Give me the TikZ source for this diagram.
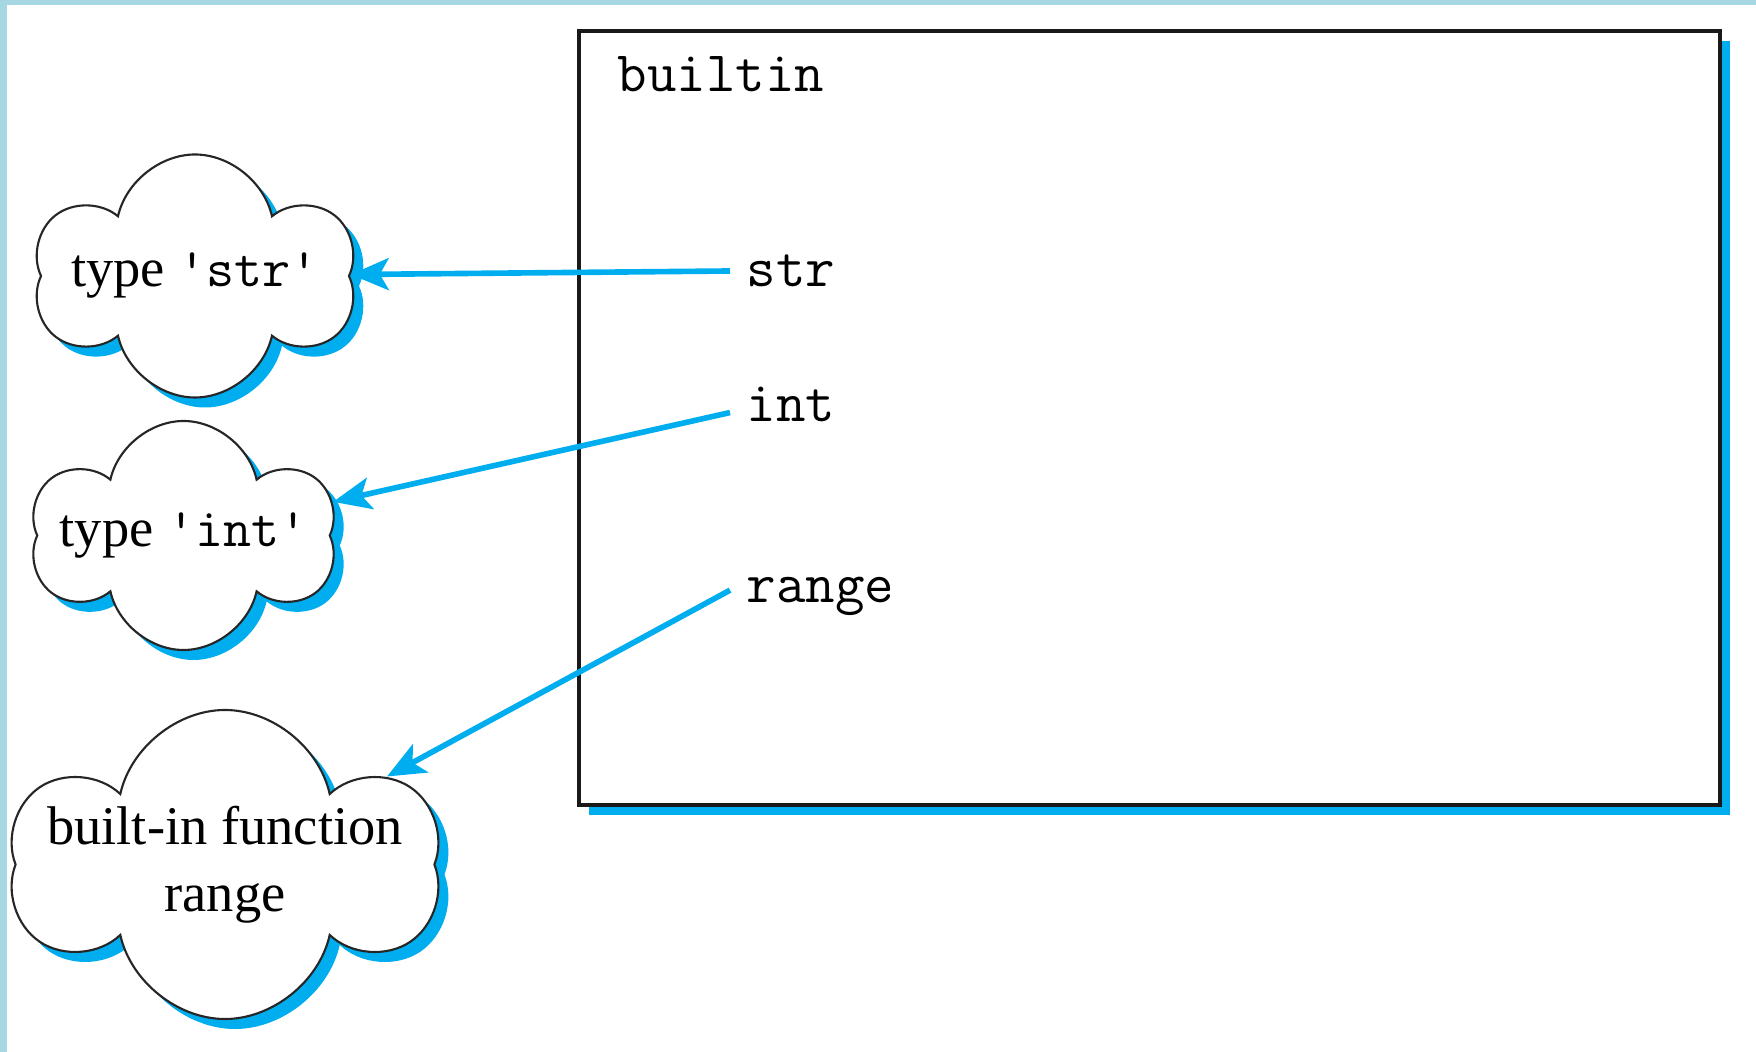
\documentclass[tikz,border=0pt]{standalone}
\usepackage{fontspec}
\setmainfont{Liberation Serif}
\usetikzlibrary{arrows.meta}
\usetikzlibrary{shapes.symbols}
\usetikzlibrary{shadows}
\usetikzlibrary{positioning}

\definecolor{pycyan}{HTML}{00AEEF}
\definecolor{pageblue}{HTML}{A6D7E3}

\begin{document}
\begin{tikzpicture}[
	every node/.style={font=\fontsize{15.5}{19}\selectfont},
	cyanshadow/.style={drop shadow={shadow xshift=1mm,shadow yshift=-1mm,fill=pycyan,opacity=1}},
	thought/.style={cloud, cloud puffs=6, cloud puff arc=155, cloud ignores aspect, draw=black!85, line width=0.6pt, fill=white, cyanshadow, align=center, inner xsep=-6mm, inner ysep=-4mm},
	namebox/.style={draw=black!90, line width=1pt, fill=white, cyanshadow, inner sep=0pt},
	idname/.style={font=\ttfamily\fontsize{16.3}{19}\selectfont, anchor=west, inner xsep=1.6mm, inner ysep=0pt},
	ref/.style={pycyan, line width=1.6pt, -{Stealth[length=3.8mm,width=3.2mm,inset=0.9mm]}}
	]
					% Page
					\fill[pageblue] (0,0) rectangle (17.56,-10.52);
					\fill[white] (0.07,-0.05) rectangle (17.56,-10.52);
					\useasboundingbox (0,0) rectangle (17.56,-10.52);
					
					% Namespace box
					\node[namebox, minimum width=11.41cm, minimum height=7.74cm] (frame) at (11.495,-4.18) {};
					\node[idname, inner xsep=0pt, anchor=north west, below right=0.27cm and 0.4cm of frame.north west] (title) {builtin};
					
					% Objects
					\node[thought, minimum width=3.22cm, minimum height=2.43cm] (tstr) at (1.95,-2.76) {type \texttt{\textquotesingle str\textquotesingle}};
					\node[thought, minimum width=3.05cm, minimum height=2.29cm] (tint) at (1.835,-5.355) {type \texttt{\textquotesingle int\textquotesingle}};
					\node[thought, minimum width=4.28cm, minimum height=3.09cm] (trange) at (2.25,-8.645) {built-in function\\range};
					
					% Names
					\node[idname] (nstr) at (7.30,-2.71) {str};
					\node[idname] (nint) at (7.30,-4.04) {int};
					\node[idname] (nrange) at (7.30,-5.965) {range};
					
					% References
					\foreach \a/\t in {nstr.west/tstr, nint.188/tint, nrange.176/trange} {
						\draw[ref] (\a) -- (\t);
					}
				\end{tikzpicture}
\end{document}
